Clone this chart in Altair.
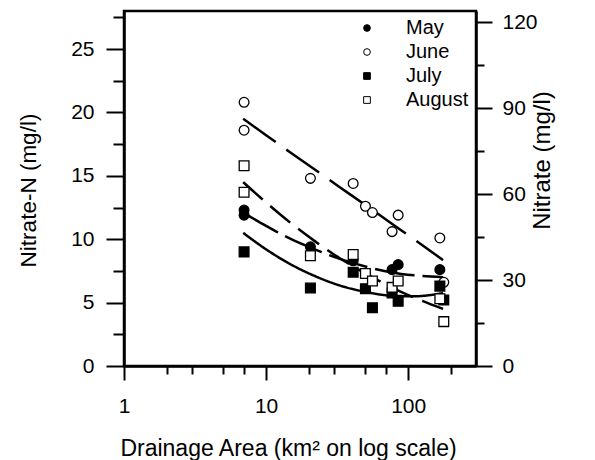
import altair as alt
import pandas as pd

months = ["May", "June", "July", "August"]

# observed nitrate-N (mg/l) against drainage area (km2)
may_area = [7, 7, 20.5, 41, 77, 85, 167]
may_n = [12.3, 11.9, 9.4, 8.3, 7.6, 8.0, 7.6]

june_area = [7, 7, 20.5, 41, 50, 56, 77, 85, 167, 178]
june_n = [20.8, 18.6, 14.8, 14.4, 12.6, 12.1, 10.6, 11.9, 10.1, 6.6]

july_area = [7, 20.5, 41, 50, 56, 77, 85, 167, 178]
july_n = [9.0, 6.15, 7.4, 6.1, 4.6, 5.75, 5.1, 6.3, 5.2]

aug_area = [7, 7, 20.5, 41, 50, 56, 77, 85, 167, 178]
aug_n = [15.8, 13.7, 8.7, 8.8, 7.3, 6.7, 6.2, 6.7, 5.3, 3.5]

# fitted curves
fit_area = [6.9, 10, 15, 22, 33, 50, 75, 110, 176]
may_fit = [12.1, 11.05, 10.0, 9.2, 8.45, 7.85, 7.4, 7.15, 7.0]
june_fit = [19.5, 18.2, 16.8, 15.5, 14.1, 12.7, 11.3, 10.0, 8.35]
july_fit = [10.5, 9.2, 8.0, 7.1, 6.35, 5.85, 5.55, 5.5, 5.75]
aug_fit = [14.5, 12.9, 11.25, 9.85, 8.5, 7.3, 6.25, 5.4, 4.5]

x_major = [1, 10, 100]
x_minor = [2, 3, 5, 7, 20, 30, 50, 70, 200]
left_major = [0, 5, 10, 15, 20, 25]
left_minor = [2.5, 7.5, 12.5, 17.5, 22.5, 27.5]
right_major = [0, 30, 60, 90, 120]
right_minor = [15, 45, 75, 105]

obs = {"May": (may_area, may_n), "June": (june_area, june_n),
       "July": (july_area, july_n), "August": (aug_area, aug_n)}
fit = {"May": may_fit, "June": june_fit, "July": july_fit, "August": aug_fit}
dash = {"May": [40, 8], "June": [40, 13], "July": [1, 0], "August": [26, 10]}

pts = pd.DataFrame([
    {"area": a, "n": v, "month": m}
    for m in months for a, v in zip(*obs[m])
])
fits = pd.DataFrame([
    {"area": a, "n": v, "month": m}
    for m in months for a, v in zip(fit_area, fit[m])
])

FONT = "Liberation Sans"
xscale = alt.Scale(type="log", domain=[1, 300], nice=False)
yscale = alt.Scale(domain=[0, 28], nice=False, zero=False)
ryscale = alt.Scale(domain=[0, 124], nice=False, zero=False)

legend = alt.Legend(
    title=None, orient="top-right", offset=7,
    symbolSize=45, symbolStrokeWidth=1,
    labelFontSize=20, labelFont=FONT, labelColor="black",
    labelOffset=29, rowPadding=4, padding=0,
)

line_layers = [
    alt.Chart(fits).transform_filter(alt.datum.month == m).mark_line(
        color="black", strokeWidth=2.5, interpolate="monotone", strokeDash=dash[m]
    ).encode(
        x=alt.X("area:Q", scale=xscale, axis=None),
        y=alt.Y("n:Q", scale=yscale, axis=None),
    )
    for m in months
]

points = alt.Chart(pts).mark_point(filled=True, size=95, strokeWidth=1.3, opacity=1).encode(
    x=alt.X("area:Q", scale=xscale, axis=alt.Axis(
        values=x_major, orient="bottom", tickSize=14, labelPadding=15, format="d",
        labelFlush=False, labelOverlap=False,
        title="Drainage Area (km² on log scale)", titleX=164, titleY=89,
        titleAlign="center", titleBaseline="alphabetic", titleFontSize=23)),
    y=alt.Y("n:Q", scale=yscale, axis=alt.Axis(
        values=left_major, orient="left", tickSize=18, labelPadding=12, format="d",
        labelFlush=False, labelOverlap=False,
        title="Nitrate-N (mg/l)", titleX=-96, titleY=179, titleAngle=270,
        titleAlign="center", titleBaseline="middle", titleFontSize=22.5)),
    shape=alt.Shape("month:N", scale=alt.Scale(domain=months, range=["circle", "circle", "square", "square"]), legend=legend),
    fill=alt.Fill("month:N", scale=alt.Scale(domain=months, range=["black", "white", "black", "white"]), legend=legend),
    stroke=alt.value("black"),
)

minor_left = alt.Chart(pts).mark_point(opacity=0).encode(
    x=alt.X("area:Q", scale=xscale, axis=alt.Axis(
        values=x_minor, orient="bottom", tickSize=8, labels=False, domain=False, title="")),
    y=alt.Y("n:Q", scale=yscale, axis=alt.Axis(
        values=left_minor, orient="left", tickSize=11, labels=False, domain=False, title="")),
)

right_major_layer = alt.Chart(pts).mark_point(opacity=0).encode(
    x=alt.X("area:Q", scale=xscale, axis=None),
    y=alt.Y("n:Q", scale=ryscale, axis=alt.Axis(
        values=right_major, orient="right", tickSize=16, labelPadding=10, format="d",
        labelFlush=False, labelOverlap=False,
        title="Nitrate (mg/l)", titleX=66, titleY=149, titleAngle=270,
        titleAlign="center", titleBaseline="middle", titleFontSize=24)),
)

right_minor_layer = alt.Chart(pts).mark_point(opacity=0).encode(
    x=alt.X("area:Q", scale=xscale, axis=None),
    y=alt.Y("n:Q", scale=ryscale, axis=alt.Axis(
        values=right_minor, orient="right", tickSize=8, labels=False, domain=False, title="")),
)

chart = alt.layer(*line_layers, points, minor_left, right_major_layer, right_minor_layer).resolve_scale(
    y="independent"
).resolve_axis(
    x="independent", y="independent"
).properties(
    width=352, height=355,
    autosize=alt.AutoSizeParams(type="none"),
    padding={"left": 116, "top": 3, "right": 100, "bottom": 94},
).configure_axis(
    domainColor="black", domainWidth=2.5, tickColor="black", tickWidth=2,
    labelColor="black", labelFont=FONT, labelFontSize=21,
    titleFont=FONT, titleFontSize=21, titleFontWeight="normal", titleColor="black",
    grid=False,
).configure_view(stroke="black", strokeWidth=2.5).configure_legend(
    labelFont=FONT
)

chart.save("out.html", embed_options={"renderer": "svg", "actions": False})
